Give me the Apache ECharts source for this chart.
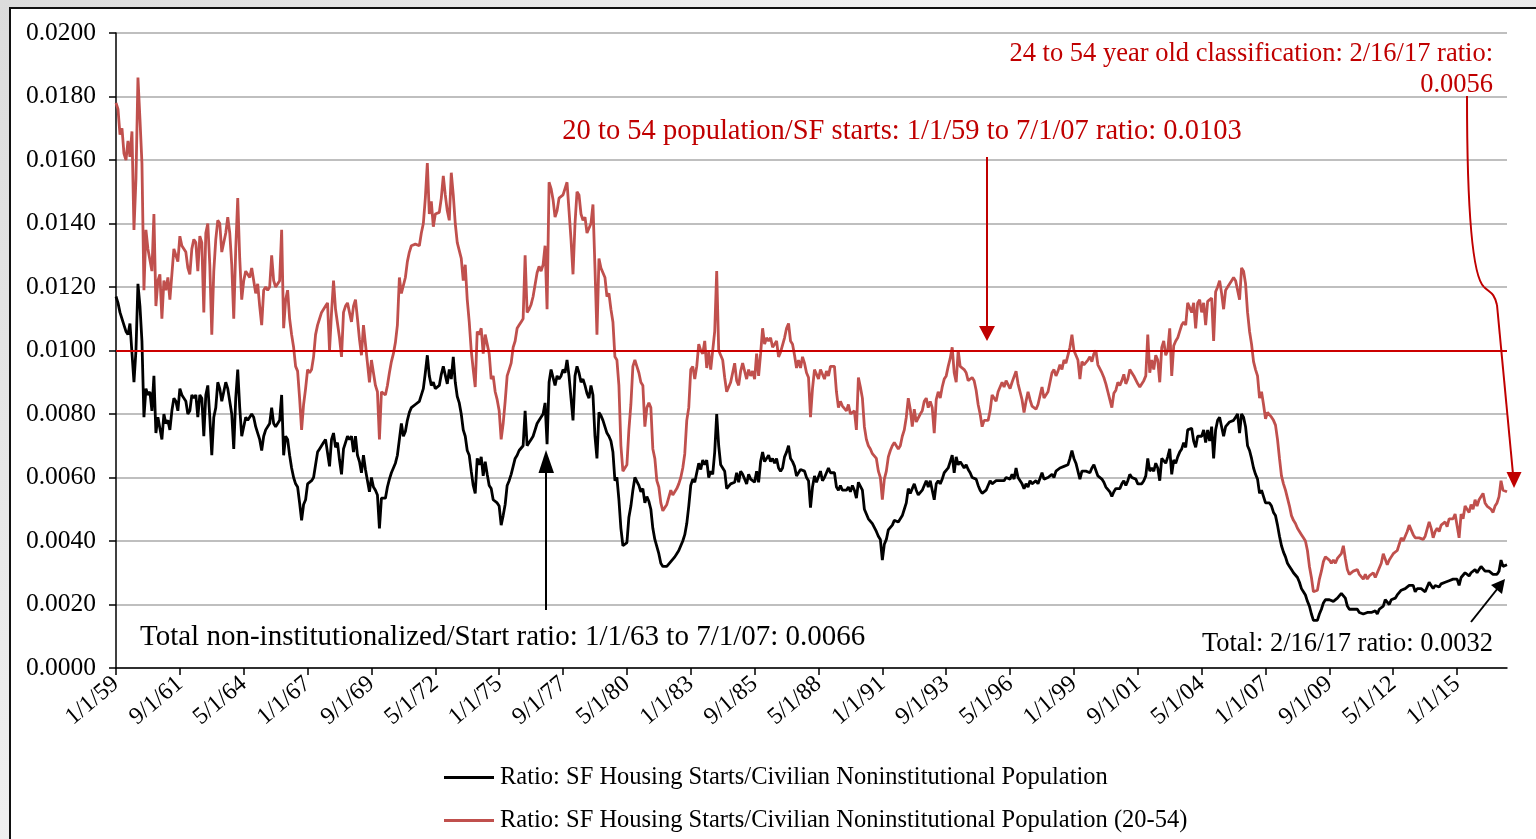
<!DOCTYPE html>
<html>
<head>
<meta charset="utf-8">
<script src="https://cdn.jsdelivr.net/npm/echarts@6/dist/echarts.min.js"></script>
<style>
html,body{margin:0;padding:0;background:#e6e6e6;overflow:hidden}
#wrap{position:relative;width:1536px;height:839px;background:linear-gradient(135deg,#dcdcdc 0%,#f2f2f2 40%,#e2e2e2 100%)}
#frame{position:absolute;left:9px;top:7px;width:1540px;height:850px;background:#fff;border-left:2px solid #111;border-top:2px solid #111}
#chart{position:absolute;left:0;top:0;width:1536px;height:839px}
</style>
</head>
<body>
<div id="wrap"><div id="frame"></div><div id="chart"></div></div>
<script>
// ---- data (monthly, 1/1/59 .. 2/1/17) ----
const startYear = 1959;
const monthCount = 698;
const categories = [];
for (let i = 0; i < monthCount; i++) {
  const y = startYear + Math.floor(i / 12);
  categories.push((i % 12 + 1) + '/1/' + String(y % 100).padStart(2, '0'));
}

const seriesNames = [
  'Ratio: SF Housing Starts/Civilian Noninstitutional Population',
  'Ratio: SF Housing Starts/Civilian Noninstitutional Population (20-54)'
];

const totalRatio = [
0.0117,0.0115,0.0112,0.0112,0.0108,0.0106,0.0105,0.01085,0.0109,0.009,0.01,0.0121,
0.0114,0.0103,0.0079,0.0088,0.0086,0.0087,0.0081,0.0092,0.0074,0.0079,0.0079,0.0072,
0.008,0.0077,0.0078,0.0075,0.0081,0.0085,0.0084,0.0081,0.0088,0.0086,0.0085,0.0084,
0.008,0.0081,0.0086,0.0085,0.0086,0.0079,0.0086,0.0085,0.0073,0.0086,0.0089,0.0079,
0.0067,0.0079,0.0082,0.009,0.0088,0.0084,0.0087,0.009,0.0088,0.0088,0.008,0.0069,
0.0085,0.0094,0.0082,0.0073,0.0076,0.0079,0.0078,0.00785,0.008,0.0079,0.0076,0.0074,
0.0072,0.00685,0.0073,0.0075,0.0075,0.0077,0.0082,0.0077,0.0076,0.0077,0.0078,0.0086,
0.0067,0.0073,0.0072,0.0067,0.0063,0.006,0.0058,0.0057,0.0052,0.00465,0.00515,0.0053,
0.0058,0.0058,0.0059,0.006,0.0064,0.0068,0.0069,0.007,0.0071,0.0072,0.0072,0.00635,
0.0072,0.0074,0.00695,0.0071,0.00655,0.0061,0.0069,0.0071,0.0073,0.0072,0.0073,0.0068,
0.0073,0.0067,0.0065,0.00615,0.0067,0.00625,0.0059,0.00555,0.006,0.0057,0.0056,0.00545,
0.0044,0.00535,0.00535,0.00535,0.0057,0.00595,0.00615,0.0063,0.00645,0.0067,0.0072,0.0077,
0.0073,0.00745,0.0078,0.00805,0.0082,0.00825,0.0083,0.0083,0.0084,0.00845,0.0088,0.0093,
0.00985,0.0092,0.0089,0.009,0.0088,0.00885,0.0089,0.00925,0.0095,0.0095,0.00895,0.0094,
0.0091,0.0098,0.009,0.00855,0.00835,0.008,0.0075,0.0073,0.00685,0.0067,0.0062,0.00575,
0.0055,0.0066,0.0064,0.00665,0.00605,0.0065,0.0061,0.00575,0.00565,0.0053,0.00535,0.0052,
0.0051,0.0045,0.0048,0.00515,0.00575,0.0059,0.0061,0.00635,0.0066,0.0067,0.00685,0.0068,
0.007,0.0081,0.007,0.0071,0.0072,0.0073,0.00735,0.0077,0.0078,0.0078,0.008,0.00835,
0.00705,0.009,0.0094,0.0094,0.0089,0.0092,0.0091,0.0092,0.0094,0.0093,0.0097,0.0092,
0.0085,0.0078,0.0092,0.0095,0.0093,0.009,0.0091,0.0089,0.00865,0.0085,0.0089,0.0086,
0.0073,0.0066,0.00805,0.00795,0.0078,0.00785,0.0074,0.0073,0.00715,0.0068,0.0059,0.006,
0.0053,0.0044,0.00385,0.00385,0.00395,0.00475,0.0051,0.0056,0.006,0.006,0.00575,0.00555,
0.00565,0.0052,0.0054,0.00525,0.005,0.0044,0.00405,0.004,0.0036,0.0033,0.0032,0.0032,
0.0032,0.0032,0.00335,0.0034,0.0035,0.0036,0.0037,0.00385,0.004,0.0042,0.00455,0.0051,
0.00575,0.00595,0.00585,0.00615,0.00645,0.00625,0.00655,0.0064,0.00655,0.006,0.0062,0.0061,
0.0068,0.008,0.007,0.0064,0.0063,0.0062,0.00565,0.0056,0.0058,0.0058,0.00585,0.00615,
0.00585,0.0062,0.0061,0.0061,0.0058,0.0061,0.00595,0.006,0.00585,0.0062,0.00585,0.0065,
0.0068,0.0065,0.00655,0.0067,0.0065,0.0066,0.00645,0.0066,0.0063,0.0062,0.0063,0.00665,
0.0068,0.007,0.0066,0.0065,0.00635,0.00605,0.006,0.00625,0.0063,0.0062,0.006,0.0059,
0.00505,0.0057,0.00605,0.00585,0.0058,0.0062,0.0059,0.006,0.00595,0.0063,0.00615,0.0062,
0.00615,0.0057,0.0056,0.00575,0.0056,0.0056,0.0056,0.0057,0.00555,0.00575,0.0056,0.00535,
0.00585,0.0059,0.0056,0.005,0.00485,0.0047,0.00465,0.00455,0.0045,0.0043,0.00415,0.00405,
0.0034,0.0039,0.00405,0.00435,0.0044,0.0045,0.00465,0.00465,0.0046,0.00465,0.0048,0.005,
0.0052,0.00565,0.0055,0.00555,0.0058,0.0056,0.00545,0.0055,0.0056,0.00565,0.0059,0.0057,
0.0059,0.0059,0.0053,0.0058,0.0059,0.0058,0.00595,0.00615,0.0061,0.0063,0.0065,0.0067,
0.00615,0.00665,0.0064,0.0065,0.0064,0.0063,0.0064,0.00625,0.00615,0.006,0.006,0.00595,
0.00575,0.0056,0.0055,0.0055,0.0056,0.00565,0.0059,0.0058,0.0058,0.0059,0.0059,0.0059,
0.0059,0.0059,0.006,0.006,0.00595,0.0061,0.00595,0.0063,0.006,0.00595,0.0058,0.00565,
0.0058,0.0057,0.0059,0.0058,0.0058,0.0059,0.0058,0.0058,0.00615,0.00595,0.006,0.006,
0.00605,0.0061,0.006,0.0062,0.0062,0.0063,0.00635,0.00635,0.0064,0.0064,0.0066,0.00685,
0.0066,0.00645,0.00645,0.00595,0.0062,0.00625,0.0062,0.00625,0.00615,0.0063,0.0064,0.00645,
0.00605,0.0061,0.00595,0.00585,0.0057,0.00565,0.00555,0.0054,0.00555,0.00565,0.00565,0.00565,
0.0058,0.0059,0.00575,0.0059,0.0061,0.006,0.006,0.00595,0.0058,0.0058,0.0058,0.0059,
0.00605,0.0066,0.0062,0.0063,0.0062,0.00645,0.0063,0.0059,0.0066,0.00655,0.00645,0.00665,
0.0069,0.0061,0.00655,0.00645,0.00665,0.0068,0.0069,0.0071,0.00695,0.0075,0.00745,0.00755,
0.00715,0.00695,0.0073,0.0073,0.0073,0.0075,0.0071,0.0075,0.00715,0.0076,0.0066,0.0075,
0.0078,0.0079,0.0076,0.0073,0.0076,0.00765,0.00775,0.0078,0.0078,0.0079,0.008,0.0074,
0.008,0.0079,0.0076,0.007,0.00685,0.0066,0.0063,0.0061,0.00595,0.0055,0.0056,0.00565,
0.0052,0.00525,0.0052,0.0051,0.0049,0.0048,0.0045,0.00415,0.00385,0.00365,0.0035,0.0033,
0.0032,0.0031,0.003,0.003,0.00285,0.0027,0.0025,0.0024,0.0023,0.0021,0.00195,0.0017,
0.0015,0.0015,0.0015,0.0017,0.00185,0.00205,0.00215,0.0021,0.00215,0.00215,0.0021,0.00215,
0.0022,0.00225,0.00235,0.0024,0.0022,0.00195,0.00185,0.0019,0.00185,0.00185,0.00185,0.00175,
0.00175,0.0017,0.00165,0.00175,0.00175,0.00175,0.00175,0.0018,0.0017,0.00185,0.00185,0.00195,
0.00215,0.0021,0.002,0.00215,0.0022,0.0022,0.0023,0.0023,0.00245,0.0024,0.0025,0.00255,
0.0026,0.00265,0.0026,0.0024,0.0025,0.00245,0.0025,0.0025,0.0024,0.00245,0.0027,0.0026,
0.0025,0.0026,0.00255,0.00255,0.00265,0.0026,0.0027,0.00275,0.00275,0.0028,0.0028,0.00285,
0.0028,0.0026,0.00285,0.0028,0.003,0.00295,0.0029,0.003,0.003,0.0031,0.003,0.0031,
0.0032,0.00325,0.00305,0.003,0.00305,0.003,0.00295,0.003,0.00295,0.00305,0.0034,0.0032,
0.0032,0.00325
];

const age2054Ratio = [
0.0178,0.0176,0.0168,0.017,0.0162,0.016,0.0166,0.0161,0.0169,0.0138,0.0154,0.0186,
0.0173,0.0159,0.0119,0.0138,0.0132,0.0132,0.0125,0.0143,0.0114,0.0122,0.0124,0.011,
0.0122,0.0119,0.0123,0.0116,0.0124,0.0132,0.013,0.0128,0.0136,0.0133,0.0133,0.0131,
0.0126,0.0124,0.0132,0.0135,0.0134,0.0125,0.0136,0.0134,0.0112,0.0137,0.014,0.0127,
0.0105,0.0125,0.0135,0.0141,0.014,0.0131,0.0134,0.0137,0.0142,0.0137,0.0127,0.011,
0.0132,0.0148,0.0129,0.0116,0.0122,0.0125,0.0125,0.0123,0.0126,0.0126,0.0118,0.0121,
0.0114,0.0108,0.0119,0.012,0.0119,0.012,0.013,0.0122,0.012,0.012,0.0122,0.0138,
0.0107,0.0116,0.0119,0.011,0.0105,0.0101,0.0095,0.00935,0.0085,0.0075,0.0083,0.0088,
0.0094,0.0093,0.0094,0.0098,0.0105,0.0108,0.011,0.0112,0.0113,0.0114,0.0115,0.01,
0.0112,0.0122,0.0113,0.0113,0.0104,0.0098,0.0112,0.0114,0.0115,0.0115,0.0109,0.0114,
0.0116,0.011,0.01035,0.00985,0.0108,0.0102,0.0096,0.009,0.0097,0.0093,0.0089,0.0087,
0.0072,0.0087,0.0087,0.0086,0.0089,0.0093,0.00965,0.0099,0.01025,0.0108,0.0123,0.0118,
0.0118,0.0123,0.0128,0.0131,0.0133,0.01335,0.01335,0.0133,0.0133,0.0137,0.014,0.0148,
0.0159,0.0143,0.0147,0.0139,0.0143,0.0143,0.01435,0.0148,0.0155,0.0149,0.0144,0.0141,
0.0156,0.0149,0.014,0.0134,0.01335,0.0129,0.0122,0.0127,0.0116,0.0109,0.01,0.0094,
0.00885,0.0106,0.0105,0.0107,0.0099,0.0105,0.0102,0.0099,0.0091,0.0092,0.0087,0.00845,
0.0081,0.0072,0.0077,0.0084,0.0092,0.0094,0.0096,0.0101,0.0103,0.0107,0.0108,0.0109,
0.011,0.013,0.0112,0.0113,0.01145,0.0117,0.0117,0.01245,0.01265,0.0125,0.0127,0.0133,
0.0113,0.0153,0.0151,0.01475,0.0142,0.0144,0.0148,0.0148,0.0149,0.01495,0.0153,0.0144,
0.0135,0.0124,0.014,0.015,0.0149,0.0143,0.0141,0.0142,0.0137,0.0137,0.014,0.0146,
0.0126,0.0105,0.0129,0.0126,0.0126,0.0123,0.0117,0.0118,0.0113,0.0109,0.0098,0.0097,
0.0089,0.007,0.0062,0.0062,0.0064,0.0075,0.0083,0.0095,0.0097,0.0095,0.0093,0.009,
0.0089,0.0076,0.0082,0.00835,0.0082,0.0069,0.0066,0.0059,0.0057,0.0052,0.00495,0.005,
0.00515,0.0051,0.0056,0.00545,0.0055,0.00565,0.0058,0.006,0.0063,0.00675,0.0078,0.0082,
0.0094,0.0095,0.0091,0.0095,0.0102,0.01,0.0099,0.0103,0.00945,0.00995,0.0094,0.0094,
0.0106,0.0125,0.01,0.00985,0.0097,0.00915,0.0087,0.00885,0.009,0.009,0.0096,0.00905,
0.0089,0.00935,0.0096,0.0096,0.0091,0.0094,0.0092,0.00935,0.0091,0.0099,0.0092,0.0099,
0.0107,0.0102,0.0104,0.0103,0.0104,0.0101,0.0102,0.0103,0.0098,0.00995,0.01,0.0104,
0.0107,0.01085,0.0103,0.0102,0.00985,0.00945,0.0097,0.00945,0.0098,0.0096,0.0093,0.00915,
0.0079,0.0088,0.0094,0.00935,0.0091,0.0094,0.00925,0.0091,0.00935,0.0092,0.0095,0.0095,
0.0095,0.0087,0.0082,0.0084,0.00825,0.00825,0.0081,0.0083,0.008,0.00805,0.0081,0.0075,
0.00915,0.00885,0.0085,0.0076,0.0072,0.007,0.0069,0.00675,0.00675,0.0066,0.0062,0.006,
0.0053,0.00595,0.0062,0.00665,0.00685,0.007,0.0071,0.007,0.0069,0.007,0.0073,0.0075,
0.0079,0.0085,0.00815,0.0076,0.00815,0.00775,0.0078,0.008,0.0081,0.0084,0.0085,0.0082,
0.0084,0.0082,0.0074,0.00845,0.0087,0.0085,0.00885,0.0091,0.0092,0.0095,0.00975,0.0101,
0.0093,0.009,0.01,0.0095,0.0095,0.0094,0.0093,0.00905,0.009,0.00915,0.00905,0.00875,
0.0083,0.008,0.0076,0.0078,0.0078,0.0078,0.0081,0.0086,0.00855,0.0084,0.0087,0.00885,
0.009,0.00885,0.00905,0.0091,0.0088,0.009,0.009,0.00935,0.00895,0.0087,0.00845,0.00805,
0.0084,0.0087,0.00845,0.00825,0.0083,0.00815,0.0083,0.0083,0.00885,0.0085,0.00855,0.0087,
0.009,0.0093,0.0094,0.0092,0.00935,0.00955,0.0094,0.0097,0.0096,0.0096,0.0101,0.0105,
0.01,0.00985,0.0097,0.0091,0.00965,0.00955,0.0096,0.0097,0.0098,0.00965,0.0099,0.01,
0.00955,0.0095,0.0093,0.00915,0.00895,0.0087,0.00845,0.0082,0.00865,0.00875,0.009,0.0089,
0.00905,0.00925,0.00895,0.0091,0.0094,0.0093,0.0092,0.00915,0.00895,0.00885,0.00885,0.00905,
0.0092,0.0105,0.0093,0.0097,0.0094,0.00985,0.0097,0.009,0.0101,0.0103,0.00985,0.01,
0.0107,0.0092,0.01015,0.0103,0.0104,0.0106,0.0108,0.0109,0.0108,0.0115,0.0115,0.0112,
0.0115,0.0107,0.0115,0.0116,0.0112,0.0115,0.0108,0.01155,0.0115,0.01165,0.0103,0.01185,
0.012,0.0122,0.0118,0.0113,0.0119,0.012,0.01205,0.0122,0.0123,0.0122,0.01215,0.0116,
0.0126,0.0125,0.0121,0.0112,0.0106,0.0102,0.00965,0.0094,0.0092,0.0085,0.0087,0.0083,
0.00785,0.00805,0.0081,0.0079,0.0078,0.00765,0.0072,0.0066,0.00605,0.0058,0.0056,0.00535,
0.0051,0.0048,0.00465,0.00455,0.0044,0.0043,0.0042,0.0041,0.004,0.0037,0.0032,0.00285,
0.0024,0.0024,0.00245,0.0028,0.00305,0.00335,0.0035,0.00345,0.0034,0.0033,0.0034,0.0033,
0.00345,0.0035,0.0036,0.00385,0.00345,0.0031,0.00295,0.003,0.00305,0.003,0.0031,0.00295,
0.0029,0.0028,0.00295,0.0028,0.0029,0.00285,0.003,0.00285,0.003,0.00305,0.0033,0.0036,
0.0036,0.00325,0.0034,0.0035,0.0036,0.00365,0.0037,0.00375,0.0041,0.004,0.00415,0.0043,
0.0045,0.0045,0.0042,0.0041,0.00415,0.0041,0.0041,0.00405,0.00415,0.0042,0.0046,0.0044,
0.0041,0.0043,0.0044,0.0043,0.0045,0.0045,0.0046,0.00445,0.0047,0.00475,0.0047,0.00485,
0.0049,0.0041,0.00485,0.0047,0.0051,0.00505,0.0049,0.00515,0.005,0.0053,0.0051,0.0053,
0.0053,0.0055,0.0052,0.0051,0.0051,0.005,0.0049,0.0051,0.0052,0.0054,0.0059,0.0056,
0.00565,0.00555
];

// average reference levels as drawn
const totalAvgLevel = 0.0066;
const age2054AvgLevel = 0.0101;

const annotationTexts = {
  red20to54: '20 to 54 population/SF starts: 1/1/59 to 7/1/07 ratio: 0.0103',
  red24to54a: '24 to 54 year old classification: 2/16/17 ratio:',
  red24to54b: '0.0056',
  blackTotal: 'Total non-institutionalized/Start ratio: 1/1/63 to 7/1/07: 0.0066',
  blackLatest: 'Total: 2/16/17 ratio: 0.0032'
};

// ---- chart ----
const SERIF = '"Liberation Serif", "Times New Roman", serif';
const RED_TXT = '#c00000';
const chart = echarts.init(document.getElementById('chart'), null, {renderer: 'canvas'});

function txt(text, x, y, size, color, align) {
  return {
    type: 'text', x: x, y: y, z: 100,
    style: {
      text: text, fill: color, font: size + 'px ' + SERIF,
      align: align, verticalAlign: 'middle',
      textAlign: align, textVerticalAlign: 'middle'
    }
  };
}
function line(x1, y1, x2, y2, color, w) {
  return {type: 'line', z: 100, shape: {x1, y1, x2, y2}, style: {stroke: color, lineWidth: w}};
}
function tri(points, color) {
  return {type: 'polygon', z: 100, shape: {points: points}, style: {fill: color}};
}

const option = {
  animation: false,
  backgroundColor: 'transparent',
  grid: {left: 116, right: 29, top: 33, bottom: 171, containLabel: false},
  legend: {
    orient: 'vertical', left: 439, top: 760,
    itemWidth: 50, itemHeight: 3, itemGap: 18, icon: 'rect',
    textStyle: {fontFamily: SERIF, fontSize: 24.5, color: '#000', lineHeight: 24, padding: [0, 0, 0, 1]},
    data: seriesNames,
    selectedMode: false
  },
  xAxis: {
    type: 'category', data: categories, boundaryGap: false,
    axisLine: {show: true, lineStyle: {color: '#000', width: 1.5}},
    axisTick: {show: true, interval: 31, length: 7, inside: false, lineStyle: {color: '#000', width: 1.5}},
    axisLabel: {interval: 31, rotate: 40, margin: 13, fontFamily: SERIF, fontSize: 24, color: '#000'},
    splitLine: {show: false}
  },
  yAxis: {
    type: 'value', min: 0, max: 0.02, interval: 0.002,
    axisLine: {show: true, lineStyle: {color: '#000', width: 1.5}},
    axisTick: {show: true, length: 7, inside: false, lineStyle: {color: '#000', width: 1.5}},
    axisLabel: {formatter: v => v.toFixed(4), margin: 20, fontFamily: SERIF, fontSize: 25.5, color: '#000'},
    splitLine: {show: true, lineStyle: {color: '#aaaaaa', width: 1.5}}
  },
  series: [
    {
      name: seriesNames[0], type: 'line', data: totalRatio, showSymbol: false, symbol: 'none',
      color: '#000', lineStyle: {color: '#000', width: 2.8}, z: 4, silent: true,
      markLine: {
        silent: true, symbol: ['none', 'none'], label: {show: false},
        lineStyle: {color: '#000', width: 2, type: 'solid'},
        emphasis: {disabled: true},
        data: [{yAxis: totalAvgLevel}]
      }
    },
    {
      name: seriesNames[1], type: 'line', data: age2054Ratio, showSymbol: false, symbol: 'none',
      color: '#c0504d', lineStyle: {color: '#c0504d', width: 2.8}, z: 3, silent: true,
      markLine: {
        silent: true, symbol: ['none', 'none'], label: {show: false},
        lineStyle: {color: '#cc0000', width: 2, type: 'solid'},
        emphasis: {disabled: true},
        data: [{yAxis: age2054AvgLevel}]
      }
    }
  ],
  graphic: {elements: [
    txt(annotationTexts.red20to54, 902, 132, 28.5, RED_TXT, 'center'),
    txt(annotationTexts.red24to54a, 1493, 54, 26.5, RED_TXT, 'right'),
    txt(annotationTexts.red24to54b, 1493, 85, 26.5, RED_TXT, 'right'),
    txt(annotationTexts.blackTotal, 140, 637, 29, '#000', 'left'),
    txt(annotationTexts.blackLatest, 1493, 644, 26.5, '#000', 'right'),
    // red vertical arrow
    line(987, 157, 987, 330, RED_TXT, 2),
    tri([[979, 326], [995, 326], [987, 341]], RED_TXT),
    // black vertical arrow
    line(546, 610, 546, 470, '#000', 2),
    tri([[538.5, 473], [554, 473], [546, 450]], '#000'),
    // black diagonal arrow
    line(1471, 622, 1498, 588, '#000', 2),
    tri([[1491, 585], [1502, 594], [1505, 579]], '#000'),
    // red curved arrow
    {type: 'bezierCurve', z: 100, shape: {x1: 1467, y1: 96, cpx1: 1467, cpy1: 200, cpx2: 1471, cpy2: 275, x2: 1484, y2: 287},
     style: {stroke: RED_TXT, lineWidth: 2, fill: null}},
    {type: 'bezierCurve', z: 100, shape: {x1: 1484, y1: 287, cpx1: 1490, cpy1: 293, cpx2: 1494, cpy2: 292, x2: 1497, y2: 305},
     style: {stroke: RED_TXT, lineWidth: 2, fill: null}},
    line(1497, 305, 1513, 474, RED_TXT, 2),
    tri([[1506.5, 472], [1521.5, 472], [1514, 488]], RED_TXT)
  ]}
};
chart.setOption(option);
</script>
</body>
</html>
